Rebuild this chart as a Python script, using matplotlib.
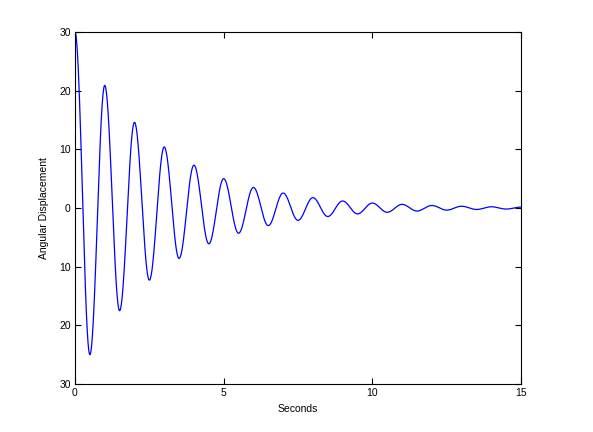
import numpy as np
import matplotlib
matplotlib.use("Agg")
import matplotlib.pyplot as plt

# extrema of the oscillation (every half second)
peak_t = [0, 0.5, 1, 1.5, 2, 2.5, 3, 3.5, 4, 4.5, 5, 5.5, 6, 6.5, 7, 7.5,
          8, 8.5, 9, 9.5, 10, 10.5, 11, 11.5, 12, 12.5, 13, 13.5, 14, 14.5, 15]
peak_y = [30, -25.0, 20.9, -17.5, 14.6, -12.3, 10.4, -8.6, 7.3, -6.1, 5.0,
          -4.3, 3.5, -3.0, 2.55, -2.1, 1.76, -1.45, 1.2, -1.0, 0.84, -0.73,
          0.62, -0.52, 0.43, -0.36, 0.3, -0.25, 0.21, -0.18, 0.15]

yticks = [-30, -20, -10, 0, 10, 20, 30]
ytick_labels = ['30', '20', '10', '0', '10', '20', '30']
xticks = [0, 5, 10, 15]

# smooth half-cosine shape between neighbouring extrema
t_all, y_all = [], []
for i in range(len(peak_t) - 1):
    t0, t1 = peak_t[i], peak_t[i + 1]
    a, b = peak_y[i], peak_y[i + 1]
    s = np.linspace(0, 1, 40, endpoint=False)
    t_all.append(t0 + s * (t1 - t0))
    y_all.append((a + b) / 2 + (a - b) / 2 * np.cos(np.pi * s))
t_all.append([peak_t[-1]])
y_all.append([peak_y[-1]])
t_all = np.concatenate(t_all)
y_all = np.concatenate(y_all)

plt.rcParams['font.family'] = ['Liberation Sans', 'DejaVu Sans']

fig = plt.figure(figsize=(5.93, 4.32), dpi=100)
ax = fig.add_axes([75 / 593, 48 / 432, 446 / 593, 352 / 432])
ax.plot(t_all, y_all, color='#0000ff', lw=0.9)

ax.set_xlim(0, 15)
ax.set_ylim(-30, 30)
ax.set_xticks(xticks)
ax.set_yticks(yticks)
ax.set_yticklabels(ytick_labels)
ax.tick_params(direction='in', length=4, width=0.8, labelsize=7.5,
               top=True, right=True, pad=3)
for sp in ax.spines.values():
    sp.set_linewidth(0.8)

ax.set_xlabel('Seconds', fontsize=7.5, labelpad=4)
ax.set_ylabel('Angular Displacement', fontsize=7.5, labelpad=7)

fig.savefig('out.png', dpi=100)
